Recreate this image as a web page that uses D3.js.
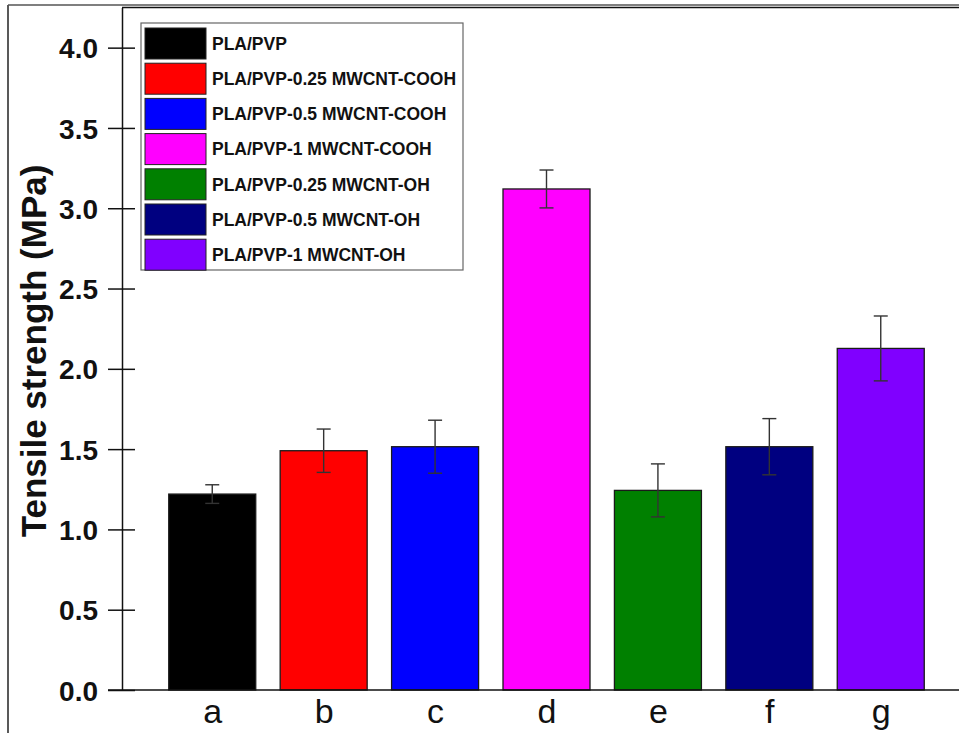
<!DOCTYPE html>
<html>
<head>
<meta charset="utf-8">
<script src="https://cdn.jsdelivr.net/npm/d3@7/dist/d3.min.js"></script>
<style>
  html, body { margin: 0; padding: 0; background: #fff; }
  svg { display: block; font-family: Arial, "Liberation Sans", sans-serif; }
</style>
</head>
<body>
<svg id="chart" width="959" height="733"></svg>
<script>
// Sample codes along the x axis
const categories = ["a", "b", "c", "d", "e", "f", "g"];
// Legend names for each sample
const seriesNames = [
  "PLA/PVP",
  "PLA/PVP-0.25 MWCNT-COOH",
  "PLA/PVP-0.5 MWCNT-COOH",
  "PLA/PVP-1 MWCNT-COOH",
  "PLA/PVP-0.25 MWCNT-OH",
  "PLA/PVP-0.5 MWCNT-OH",
  "PLA/PVP-1 MWCNT-OH"
];
// Mean tensile strength (MPa) and standard deviation
const strength = [1.22, 1.49, 1.515, 3.12, 1.243, 1.515, 2.127];
const strengthErr = [0.058, 0.135, 0.165, 0.118, 0.165, 0.175, 0.202];
const barColors = ["#000000", "#ff0000", "#0000ff", "#ff00ff", "#008000", "#000080", "#8000ff"];
const yTicks = [0, 0.5, 1.0, 1.5, 2.0, 2.5, 3.0, 3.5, 4.0];

const svg = d3.select("#chart");

// Plot frame geometry (the right side of the frame runs past the page edge)
const plotLeft = 122, plotTop = 7.5, plotBottom = 690;

const x = d3.scaleLinear().domain([0.19, 7.81]).range([plotLeft, 971]);
const y = d3.scaleLinear().domain([0, 4.25]).range([plotBottom, plotTop]);
const barW = 87;

// Outer border of the figure
svg.append("line").attr("x1", 8).attr("x2", 8).attr("y1", 5).attr("y2", 733)
  .attr("stroke", "#222").attr("stroke-width", 1.5);
svg.append("line").attr("x1", 8).attr("x2", 959).attr("y1", 5).attr("y2", 5)
  .attr("stroke", "#555").attr("stroke-width", 1.5);

// Bars
const g = svg.append("g");
g.selectAll("rect.bar").data(strength).join("rect")
  .attr("class", "bar")
  .attr("x", (d, i) => x(i + 1) - barW / 2)
  .attr("width", barW)
  .attr("y", d => y(d))
  .attr("height", d => y(0) - y(d))
  .attr("fill", (d, i) => barColors[i])
  .attr("stroke", "#1a1a1a")
  .attr("stroke-width", 1.3);

// Error bars
const cap = 7;
const eb = g.selectAll("g.err").data(strength).join("g").attr("class", "err")
  .attr("stroke", "#333").attr("stroke-width", 1.4);
eb.append("line")
  .attr("x1", (d, i) => x(i + 1)).attr("x2", (d, i) => x(i + 1))
  .attr("y1", (d, i) => y(d - strengthErr[i])).attr("y2", (d, i) => y(d + strengthErr[i]));
eb.append("line")
  .attr("x1", (d, i) => x(i + 1) - cap).attr("x2", (d, i) => x(i + 1) + cap)
  .attr("y1", (d, i) => y(d + strengthErr[i])).attr("y2", (d, i) => y(d + strengthErr[i]));
eb.append("line")
  .attr("x1", (d, i) => x(i + 1) - cap).attr("x2", (d, i) => x(i + 1) + cap)
  .attr("y1", (d, i) => y(d - strengthErr[i])).attr("y2", (d, i) => y(d - strengthErr[i]));

// Y axis: ticks cross the axis line on both sides
const yAxis = d3.axisLeft(y).tickValues(yTicks).tickFormat(d3.format(".1f"))
  .tickSizeInner(14).tickSizeOuter(0).tickPadding(10);
const ya = svg.append("g").attr("transform", `translate(${plotLeft},0)`).call(yAxis);
ya.select(".domain").attr("stroke", "#111").attr("stroke-width", 1.5);
ya.selectAll(".tick line").attr("x2", 13).attr("x1", -14).attr("stroke", "#111").attr("stroke-width", 1.5);
ya.selectAll(".tick text")
  .attr("font-size", 28).attr("font-weight", "bold").attr("fill", "#111")
  .attr("font-family", "Arial, 'Liberation Sans', sans-serif")
  .attr("dy", "0.36em");

// Top frame line
svg.append("line").attr("x1", plotLeft).attr("x2", 959).attr("y1", plotTop).attr("y2", plotTop)
  .attr("stroke", "#111").attr("stroke-width", 1.5);

// X axis baseline (starts at the 0.0 tick) and category labels
svg.append("line").attr("x1", plotLeft - 14).attr("x2", 959).attr("y1", y(0)).attr("y2", y(0))
  .attr("stroke", "#111").attr("stroke-width", 1.5);
const xAxis = d3.axisBottom(x).tickValues(categories.map((c, i) => i + 1))
  .tickFormat((d) => categories[d - 1]).tickSize(0).tickPadding(0);
const xa = svg.append("g").attr("transform", `translate(0,${plotBottom})`).call(xAxis);
xa.select(".domain").remove();
xa.selectAll(".tick text")
  .attr("font-size", 34).attr("fill", "#111")
  .attr("font-family", "Arial, 'Liberation Sans', sans-serif")
  .attr("dy", null).attr("y", 33);

// Y axis title
svg.append("text")
  .attr("transform", `translate(46,${351}) rotate(-90)`)
  .attr("text-anchor", "middle")
  .attr("font-size", 35).attr("font-weight", "bold").attr("fill", "#111")
  .text("Tensile strength (MPa)");

// Legend
const lg = svg.append("g");
lg.append("rect").attr("x", 141).attr("y", 23).attr("width", 322).attr("height", 247)
  .attr("fill", "#fff").attr("stroke", "#666").attr("stroke-width", 1.2);
const rowH = 35.2;
const items = lg.selectAll("g.item").data(seriesNames).join("g").attr("class", "item")
  .attr("transform", (d, i) => `translate(145,${28 + i * rowH})`);
items.append("rect").attr("width", 61).attr("height", 31)
  .attr("fill", (d, i) => barColors[i]).attr("stroke", "#222").attr("stroke-width", 1);
items.append("text").attr("x", 67).attr("y", 15.5).attr("dy", "0.36em")
  .attr("font-size", 17.5).attr("font-weight", "bold").attr("fill", "#111")
  .text(d => d);
</script>
</body>
</html>
